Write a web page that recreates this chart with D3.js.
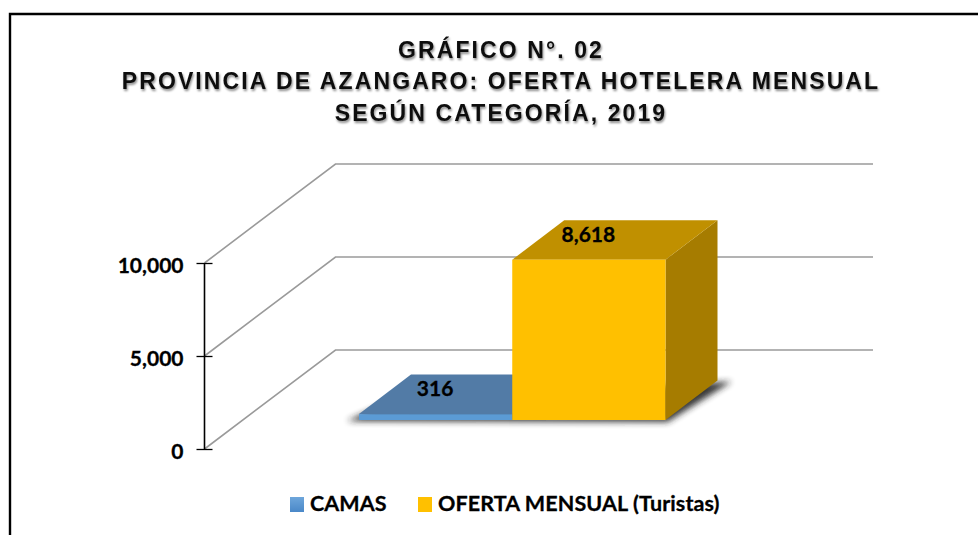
<!DOCTYPE html>
<html>
<head>
    <meta charset="utf-8">
    <title>Oferta hotelera mensual</title>
    <script src="https://d3js.org/d3.v7.min.js"></script>
    <style>
        html, body { margin: 0; padding: 0; background: #fff; overflow: hidden; }
        svg { display: block; }
        .titulo {
            font-family: "Liberation Sans", Arial, sans-serif;
            font-weight: bold;
            font-size: 23px;
            letter-spacing: 2.1px;
            fill: #111;
        }
        .lbl {
            font-family: Lato, sans-serif;
            font-weight: bold;
            font-size: 21px;
            fill: #000;
            stroke: #000;
            stroke-width: 0.3px;
        }
        .legend text { font-size: 21.5px; letter-spacing: 0.1px; }
    </style>
</head>
<body>
<div id="svg_container"></div>
<script>
    const title_lines = ["GRÁFICO N°. 02", "PROVINCIA DE AZANGARO: OFERTA HOTELERA MENSUAL", "SEGÚN CATEGORÍA, 2019"];
    const categories = ["CAMAS", "OFERTA MENSUAL (Turistas)"];
    const values = [316, 8618];
    const value_labels = ["316", "8,618"];
    const y_ticks = [0, 5000, 10000];
    const front_colors = ["#5b9bd5", "#ffc000"];
    const top_colors = ["#527ba6", "#c09000"];
    const side_colors = ["#44719f", "#a67c00"];

    const width = 978;
    const height = 535;

    const svg = d3.select("#svg_container").append("svg")
        .attr("width", width)
        .attr("height", height);

    const defs = svg.append("defs");

    const blur = defs.append("filter").attr("id", "blur")
        .attr("x", "-20%").attr("y", "-40%").attr("width", "140%").attr("height", "180%");
    blur.append("feGaussianBlur").attr("stdDeviation", 3);

    const title_shadow = defs.append("filter").attr("id", "title_shadow")
        .attr("x", "-5%").attr("y", "-30%").attr("width", "110%").attr("height", "170%");
    title_shadow.append("feDropShadow")
        .attr("dx", 1).attr("dy", 2).attr("stdDeviation", 1.2)
        .attr("flood-color", "#000").attr("flood-opacity", 0.45);

    const swatch = defs.append("linearGradient").attr("id", "swatch_blue")
        .attr("x1", 0).attr("y1", 0).attr("x2", 0).attr("y2", 1);
    swatch.append("stop").attr("offset", "0%").attr("stop-color", "#6ea6db");
    swatch.append("stop").attr("offset", "100%").attr("stop-color", "#4a88c8");

    // frame, cut off by the picture on the right and at the bottom
    svg.append("path")
        .attr("d", "M10 " + height + " V14 H" + width)
        .attr("fill", "none")
        .attr("stroke", "#000")
        .attr("stroke-width", 2.4);

    svg.selectAll("text.titulo")
        .data(title_lines)
        .enter()
        .append("text")
        .attr("class", "titulo")
        .attr("x", 501)
        .attr("y", (d, i) => 57.5 + i * 31.5)
        .attr("text-anchor", "middle")
        .attr("filter", "url(#title_shadow)")
        .text(d => d);

    // scales
    const y = d3.scaleLinear().domain([0, 10000]).range([449, 263]);
    const x = d3.scaleBand().domain(categories).range([359, 665.5]);

    // depth of the walls and of the bars
    const wall_dx = 131;
    const wall_dy = -99;
    const bar_dx = 52;
    const bar_dy = -39.5;
    const grid_right = 873;
    const bar_base = 420;

    // gridlines, floor edge going back then running right
    svg.selectAll("path.grid")
        .data(y_ticks)
        .enter()
        .append("path")
        .attr("class", "grid")
        .attr("d", d => {
            const p = y(d);
            return "M" + 204.5 + " " + p + " L" + (204.5 + wall_dx) + " " + (p + wall_dy) + " H" + grid_right;
        })
        .attr("fill", "none")
        .attr("stroke", "#9a9a9a")
        .attr("stroke-width", 1.6);

    // axis
    const axis = d3.axisLeft(y)
        .tickValues(y_ticks)
        .tickSize(8)
        .tickPadding(11)
        .tickFormat(d3.format(","));

    const axis_g = svg.append("g")
        .attr("transform", "translate(204.5,0)")
        .call(axis);

    axis_g.select(".domain").attr("stroke", "#000").attr("stroke-width", 1.6).attr("d", "M0 " + y(0) + " V" + y(10000));
    axis_g.selectAll(".tick line").attr("x2", -8).attr("x1", 8).attr("stroke", "#000").attr("stroke-width", 1.3);
    axis_g.selectAll(".tick text")
        .attr("class", "lbl")
        .attr("x", -21)
        .attr("dy", "0.43em")
        .attr("font-family", null)
        .attr("font-size", null);

    // shadow under the bars
    const left = x(categories[0]);
    const right = x(categories[1]) + x.bandwidth();
    svg.append("path")
        .attr("d", "M" + (left - 12) + " " + (bar_base + 1)
            + " L" + (left + 30) + " " + (bar_base - 18)
            + " L" + (right + bar_dx + 14) + " " + (bar_base + bar_dy + 1)
            + " L" + (right + 2) + " " + (bar_base + 2) + " Z")
        .attr("fill", "#222")
        .attr("opacity", 0.9)
        .attr("filter", "url(#blur)");

    // bars, one box per category
    const bars = svg.selectAll("g.bar")
        .data(categories)
        .enter()
        .append("g")
        .attr("class", "bar");

    bars.each(function(d, i) {
        const g = d3.select(this);
        const x0 = x(d);
        const x1 = x0 + x.bandwidth();
        const h = y(0) - y(values[i]);
        const top_y = bar_base - h;

        g.append("path")
            .attr("d", "M" + x1 + " " + bar_base + " L" + x1 + " " + top_y
                + " L" + (x1 + bar_dx) + " " + (top_y + bar_dy)
                + " L" + (x1 + bar_dx) + " " + (bar_base + bar_dy) + " Z")
            .attr("fill", side_colors[i]);

        g.append("path")
            .attr("d", "M" + x0 + " " + top_y + " L" + (x0 + bar_dx) + " " + (top_y + bar_dy)
                + " L" + (x1 + bar_dx) + " " + (top_y + bar_dy) + " L" + x1 + " " + top_y + " Z")
            .attr("fill", top_colors[i]);

        g.append("rect")
            .attr("x", x0)
            .attr("y", top_y)
            .attr("width", x.bandwidth())
            .attr("height", h)
            .attr("fill", front_colors[i]);
    });

    // value labels sit on the top face
    svg.selectAll("text.valor")
        .data(categories)
        .enter()
        .append("text")
        .attr("class", "lbl valor")
        .attr("x", d => x(d) + x.bandwidth() / 2 - 0.5)
        .attr("y", (d, i) => bar_base - (y(0) - y(values[i])) + bar_dy / 2 - 6)
        .attr("dy", "0.36em")
        .attr("text-anchor", "middle")
        .text((d, i) => value_labels[i]);

    // legend
    const legend_x = [290, 418];
    const legend = svg.selectAll("g.legend")
        .data(categories)
        .enter()
        .append("g")
        .attr("class", "legend")
        .attr("transform", (d, i) => "translate(" + legend_x[i] + ",497)");

    legend.append("rect")
        .attr("width", 14)
        .attr("height", 15)
        .attr("fill", (d, i) => i === 0 ? "url(#swatch_blue)" : front_colors[i]);

    legend.append("text")
        .attr("class", "lbl")
        .attr("x", 20)
        .attr("y", 14)
        .text(d => d);
</script>
</body>
</html>
